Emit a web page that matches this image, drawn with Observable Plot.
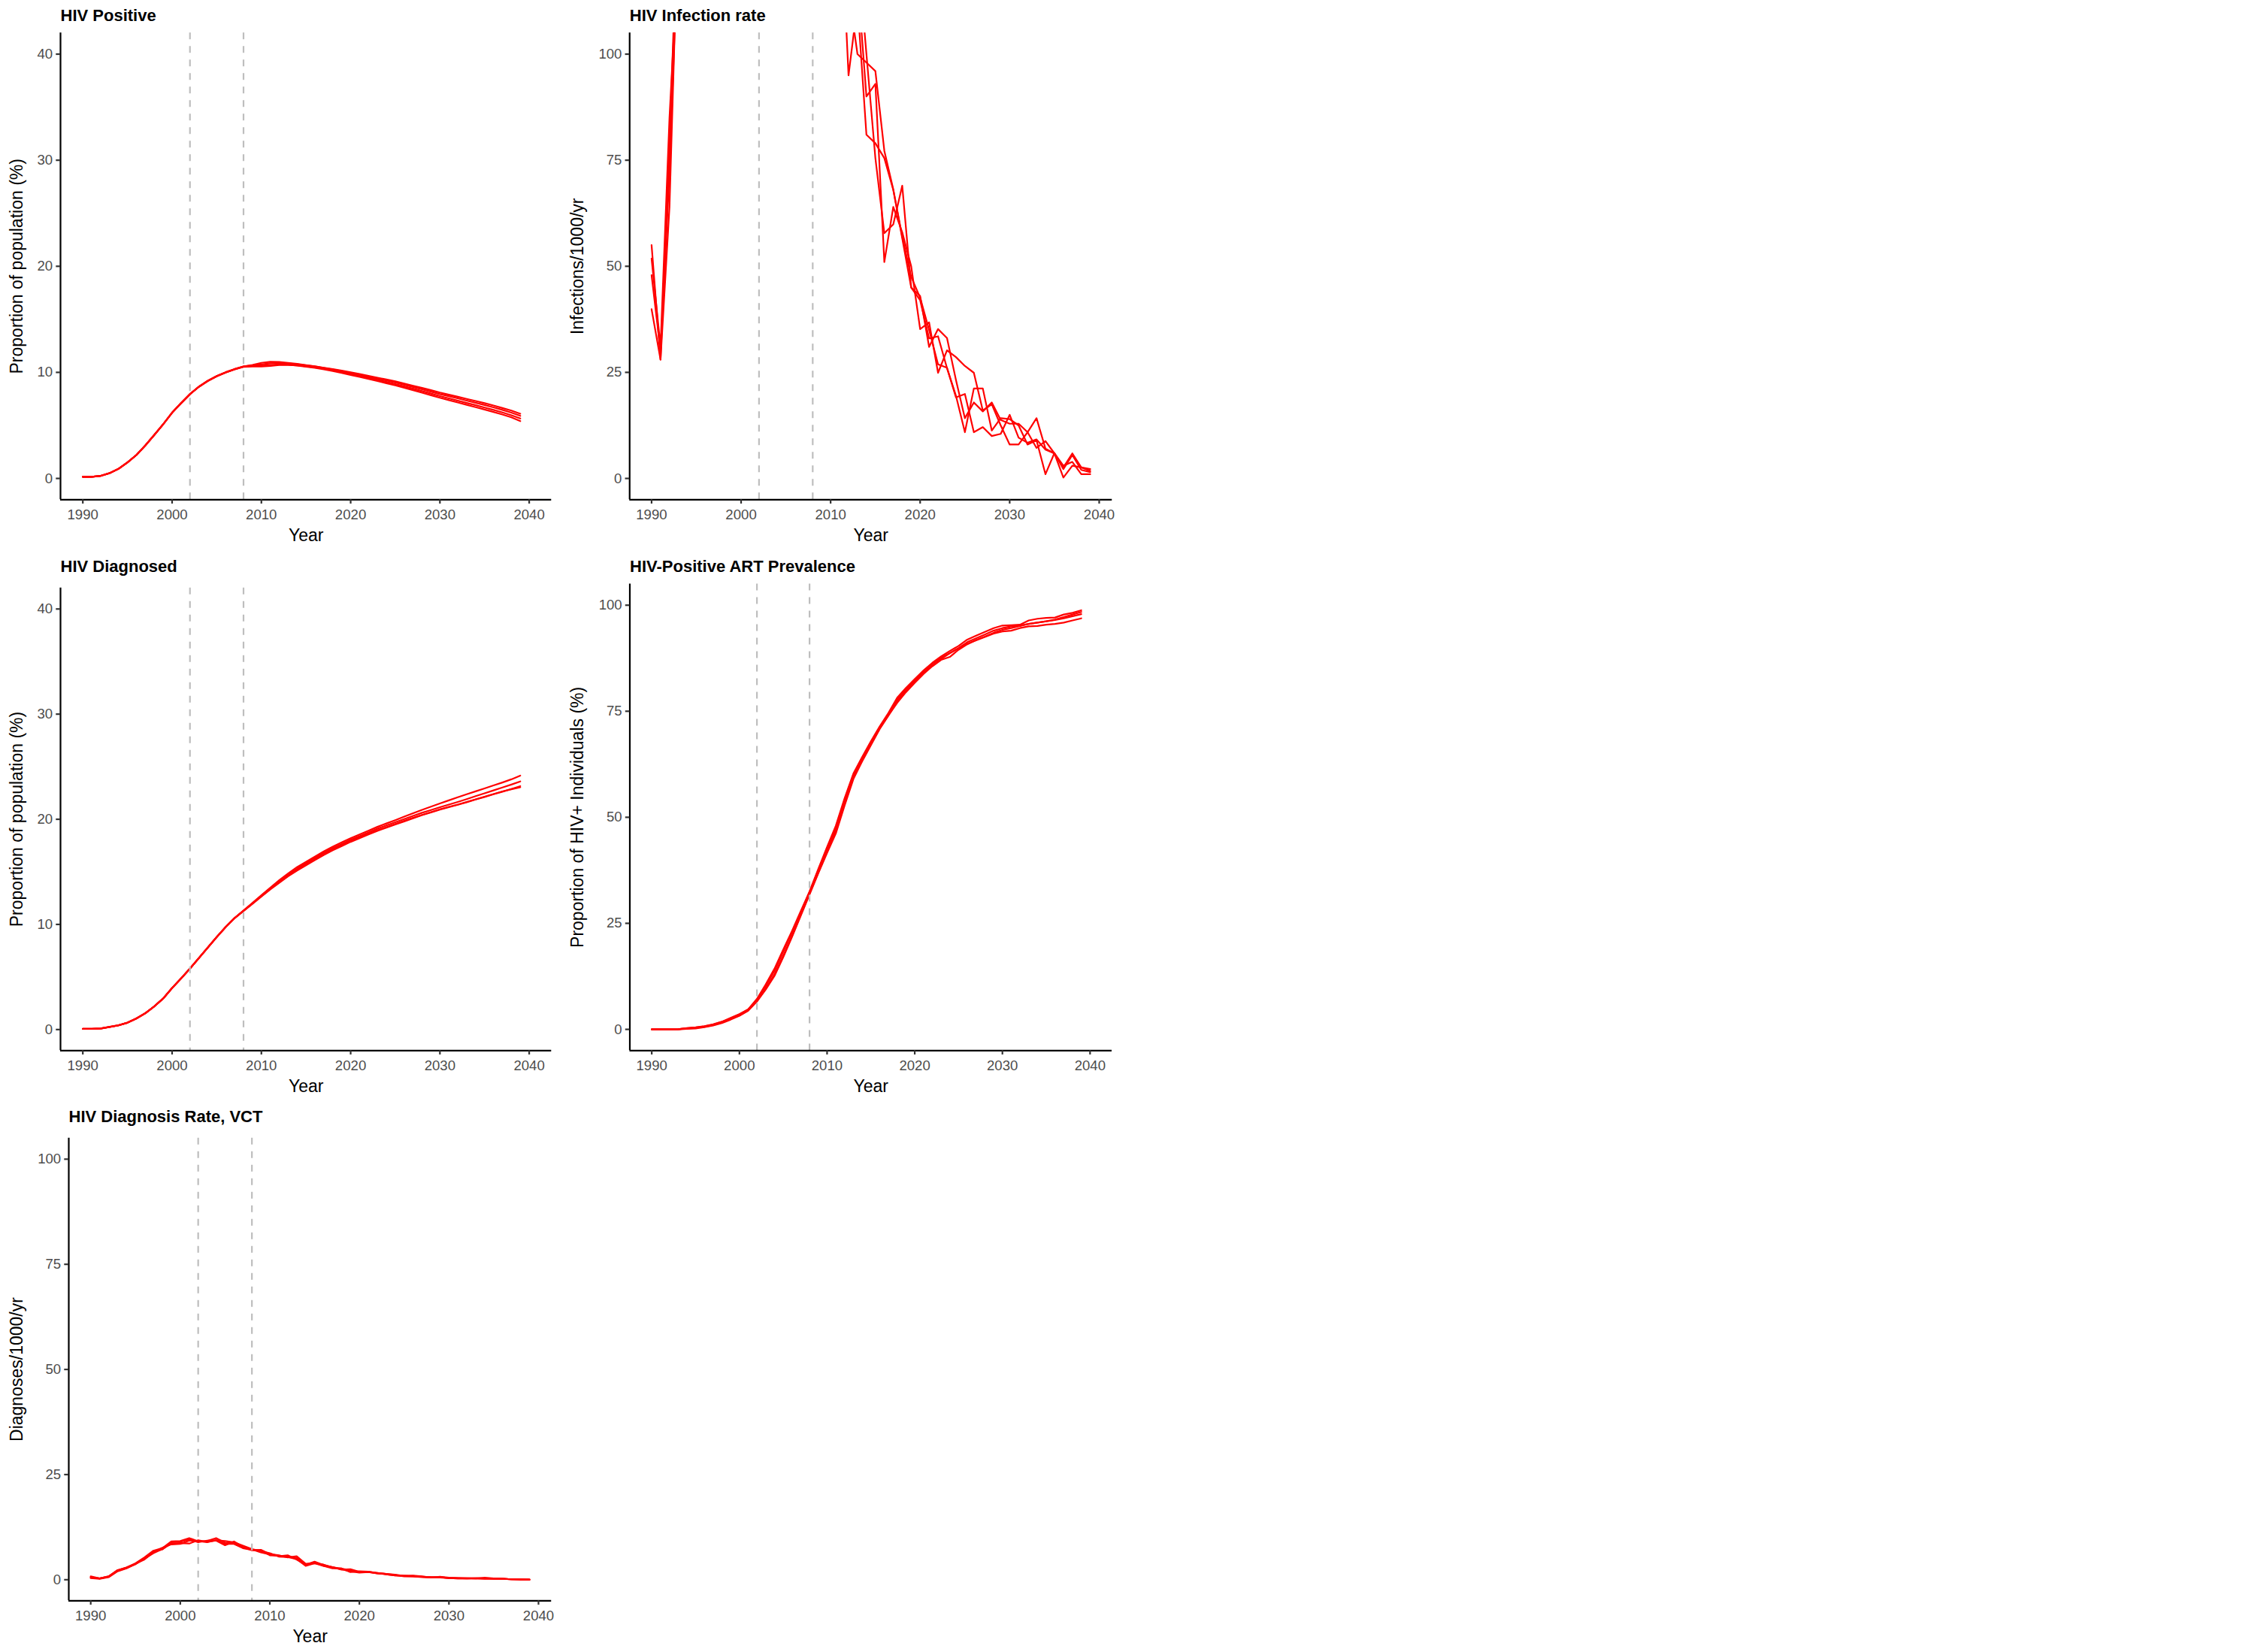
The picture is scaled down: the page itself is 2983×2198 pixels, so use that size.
<!DOCTYPE html>
<html>
<head>
<meta charset="utf-8">
<script src="https://cdn.jsdelivr.net/npm/d3@7"></script>
<script src="https://cdn.jsdelivr.net/npm/@observablehq/plot@0.6"></script>
<style>
html, body { margin: 0; padding: 0; background: #ffffff; }
#chart { position: relative; width: 2983px; height: 2198px; background: #ffffff; overflow: hidden; }
.panel { position: absolute; }
</style>
</head>
<body>
<div id="chart"></div>
<script>
// ---------------- data ----------------
const years = [1990,1991,1992,1993,1994,1995,1996,1997,1998,1999,
               2000,2001,2002,2003,2004,2005,2006,2007,2008,2009,
               2010,2011,2012,2013,2014,2015,2016,2017,2018,2019,
               2020,2021,2022,2023,2024,2025,2026,2027,2028,2029,
               2030,2031,2032,2033,2034,2035,2036,2037,2038,2039];
const interventionYears = [2002, 2008];
const xTicks = [1990, 2000, 2010, 2020, 2030, 2040];
const pctTicks = [0, 10, 20, 30, 40];
const rateTicks = [0, 25, 50, 75, 100];
const runNames = ["run1", "run2", "run3", "run4"];

// HIV Positive (% of population)
const hivPosRun1 = [0.15,0.16,0.24,0.5,0.9,1.5,2.2,3.1,4.1,5.1,6.2,7.1,7.95,8.65,9.2,9.65,10.0,10.3,10.55,10.7,
  10.9,11.0,10.98,10.9,10.8,10.68,10.57,10.44,10.3,10.16,10.0,9.84,9.67,9.5,9.33,9.15,8.95,8.74,8.53,8.32,8.1,7.9,7.7,7.5,7.3,7.1,6.88,6.64,6.4,6.1];
const hivPosRun2 = [0.15,0.16,0.25,0.5,0.92,1.52,2.22,3.12,4.1,5.12,6.2,7.1,7.96,8.66,9.22,9.66,10.02,10.32,10.56,10.66,
  10.75,10.85,10.88,10.84,10.76,10.66,10.55,10.42,10.27,10.12,9.95,9.78,9.6,9.42,9.24,9.05,8.84,8.62,8.4,8.18,7.95,7.75,7.55,7.34,7.13,6.92,6.7,6.46,6.2,5.9];
const hivPosRun3 = [0.14,0.15,0.24,0.49,0.9,1.5,2.2,3.1,4.08,5.1,6.18,7.08,7.93,8.63,9.18,9.63,9.98,10.28,10.52,10.55,
  10.55,10.6,10.7,10.7,10.65,10.57,10.47,10.35,10.2,10.04,9.86,9.68,9.5,9.3,9.1,8.9,8.68,8.46,8.23,8.0,7.76,7.55,7.33,7.12,6.9,6.68,6.46,6.22,5.96,5.65];
const hivPosRun4 = [0.15,0.16,0.25,0.51,0.91,1.51,2.21,3.11,4.11,5.11,6.21,7.11,7.96,8.64,9.19,9.64,9.99,10.29,10.54,10.62,
  10.62,10.7,10.75,10.72,10.64,10.54,10.42,10.28,10.12,9.95,9.76,9.57,9.38,9.18,8.98,8.77,8.55,8.32,8.08,7.84,7.6,7.38,7.16,6.94,6.72,6.5,6.27,6.03,5.76,5.4];

// HIV Infection rate (infections/1000/yr)
const infRun1 = [55,28,64,135,160,180,190,195,196,193,189,184,178,172,166,161,156,152,148,145,142,140,
  95,112,81,79,75.5,68,57,47.5,42.6,35,26.9,26.1,19.1,19.9,10.9,12.1,10,10.5,15,9.6,8.4,9.2,6.8,5.9,3,3.9,1,1];
const infRun2 = [51.8,31,85,125,150,170,182,188,190,188,184,180,175,170,164,158,152,146,140,134,128,122,
  115,100,98,96,77.2,68.1,56.6,45,43,31,35.2,33.1,23.2,14.2,17.9,15.8,17.9,13.8,12.9,12.9,10.9,7.2,8.8,5.9,2.6,5.9,2.6,1.8];
const infRun3 = [47.9,30,72,130,158,176,186,192,194,192,188,184,179,174,168,162,156,150,145,140,135,130,
  125,118,90,93,51,64,58,50,35.2,36.8,24.9,30.2,28.6,26.5,24.9,16,17.5,12.5,8,8,10.9,14.2,7,5.9,0.2,3,2.6,2.2];
const infRun4 = [39.9,28,78,140,165,185,195,200,200,197,193,188,183,177,171,165,159,153,147,141,136,131,
  128,125,100,75.5,57.8,59.9,69,45,42,33,33.5,26,19.5,10.9,21.2,21.2,11.3,14.2,14,12.5,8,9,1,6,2.2,5.5,2,1.5];

// HIV Diagnosed (% of population)
const diagRun1 = [0.07,0.07,0.1,0.25,0.4,0.66,1.06,1.56,2.21,2.96,3.96,4.86,5.81,6.81,7.81,8.81,9.76,10.62,11.32,12.05,
  12.78,13.5,14.2,14.85,15.45,15.95,16.45,16.95,17.4,17.8,18.2,18.55,18.92,19.28,19.6,19.92,20.25,20.57,20.9,21.2,21.5,21.8,22.1,22.38,22.66,22.94,23.22,23.5,23.8,24.15];
const diagRun2 = [0.07,0.07,0.1,0.25,0.41,0.65,1.05,1.55,2.2,2.95,3.95,4.85,5.8,6.8,7.8,8.8,9.75,10.6,11.3,12.0,
  12.72,13.42,14.08,14.72,15.3,15.82,16.32,16.8,17.25,17.65,18.05,18.4,18.75,19.1,19.42,19.72,20.02,20.32,20.62,20.88,21.15,21.4,21.65,21.92,22.2,22.47,22.75,23.02,23.3,23.6];
const diagRun3 = [0.06,0.06,0.09,0.24,0.4,0.64,1.04,1.54,2.19,2.94,3.94,4.84,5.79,6.79,7.79,8.79,9.74,10.59,11.28,11.96,
  12.64,13.32,13.96,14.58,15.12,15.62,16.12,16.6,17.05,17.45,17.85,18.2,18.55,18.9,19.2,19.5,19.8,20.1,20.4,20.65,20.92,21.15,21.38,21.62,21.88,22.12,22.38,22.62,22.88,23.15];
const diagRun4 = [0.07,0.07,0.1,0.26,0.41,0.66,1.06,1.56,2.2,2.96,3.96,4.86,5.8,6.8,7.8,8.8,9.75,10.6,11.29,11.98,
  12.68,13.38,14.02,14.62,15.18,15.68,16.18,16.68,17.15,17.55,17.95,18.3,18.62,18.95,19.25,19.55,19.85,20.15,20.42,20.68,20.95,21.18,21.4,21.65,21.9,22.15,22.4,22.65,22.85,23.05];

// HIV-Positive ART Prevalence (% of HIV+ individuals)
const artRun1 = [0,0,0,0.05,0.3,0.5,0.75,1.2,1.8,2.7,3.6,4.7,7.2,10.6,14.3,18.8,23.2,27.9,32.5,37.8,
  43.0,48.0,54.5,60.3,64.2,67.9,71.4,74.6,78.2,80.5,82.6,84.6,86.4,87.9,89.2,90.4,91.9,92.8,93.7,94.6,95.2,95.3,95.4,96.4,96.8,97.0,97.1,97.8,98.2,98.8];
const artRun2 = [0,0,0,0.02,0.2,0.35,0.6,1.0,1.6,2.4,3.3,4.5,6.6,9.6,13.0,17.4,22.0,27.0,32.0,37.0,
  42.0,46.9,53.5,59.6,63.6,67.3,70.9,74.0,77.4,79.9,82.1,84.1,85.8,87.3,88.7,89.9,91.3,92.2,93.1,94.0,94.6,95.0,95.2,95.6,95.9,96.2,96.6,97.2,97.8,98.4];
const artRun3 = [0,0,0,0,0.1,0.2,0.5,0.9,1.5,2.3,3.2,4.4,6.6,9.4,12.6,17.0,21.8,26.8,31.8,36.8,
  41.6,46.2,52.8,59.0,63.2,67.0,70.8,74.0,77.0,79.5,81.7,83.8,85.6,87.1,87.8,89.5,90.8,91.8,92.6,93.5,94.2,94.6,95.1,95.6,95.9,96.2,96.5,96.9,97.4,97.9];
const artRun4 = [0,0,0,0.05,0.25,0.45,0.7,1.1,1.8,2.6,3.5,4.7,6.9,10.2,13.8,18.3,22.8,27.5,32.4,37.5,
  42.6,47.5,54.0,60.0,63.8,67.6,71.2,74.3,77.8,80.3,82.5,84.5,86.2,87.6,88.7,89.8,90.9,91.7,92.5,93.3,93.8,94.0,94.6,95.0,95.1,95.4,95.6,95.9,96.4,96.9];

// HIV Diagnosis Rate, VCT (diagnoses/1000/yr)
const vctRun1 = [0.8,0.3,0.8,2.3,2.9,3.9,5.3,6.9,7.5,9.1,9.2,9.9,9.1,9.2,9.9,8.8,8.6,7.6,7.2,6.5,
  6.0,5.6,5.8,4.8,3.6,4.3,3.5,3.0,2.4,2.5,1.9,1.8,1.6,1.4,1.2,0.9,1.0,0.8,0.5,0.7,0.5,0.4,0.4,0.3,0.5,0.3,0.2,0.1,0.1,0.1];
const vctRun2 = [0.4,0.2,0.6,2.0,2.7,3.7,5.0,6.3,7.3,8.6,8.7,8.6,9.4,9.0,9.3,8.2,9.1,7.8,7.0,7.1,
  6.1,5.8,5.3,5.6,3.8,3.9,3.3,2.7,2.7,1.8,2.0,1.9,1.5,1.3,1.0,0.9,0.8,0.7,0.6,0.5,0.4,0.3,0.3,0.4,0.3,0.2,0.2,0.1,0.1,0.0];
const vctRun3 = [0.5,0.3,0.7,2.1,2.8,3.8,4.8,6.5,7.6,8.4,8.5,9.3,9.2,8.9,9.4,9.2,8.9,8.1,7.3,6.8,
  6.3,5.5,5.4,4.9,3.3,3.9,3.6,2.9,2.5,2.0,1.7,1.8,1.5,1.4,1.1,0.8,0.8,0.6,0.5,0.6,0.4,0.3,0.3,0.3,0.2,0.3,0.2,0.1,0.0,0.0];
const vctRun4 = [0.6,0.3,0.8,2.2,2.9,3.7,5.1,6.7,7.2,8.9,9.0,9.6,8.9,9.3,9.4,8.5,8.5,7.5,7.1,7.0,
  5.8,5.7,5.5,5.2,3.5,4.1,3.3,3.0,2.6,2.3,1.8,1.9,1.6,1.3,1.0,1.0,0.9,0.7,0.6,0.6,0.4,0.4,0.3,0.3,0.3,0.2,0.2,0.1,0.1,0.0];

// ---------------- layout ----------------
const FIG_W = 2983, FIG_H = 2198;
const CELL_W = FIG_W / 4, CELL_H = FIG_H / 3;
const PW = 746, PH = 733;
const FONT = "'Liberation Sans', Arial, Helvetica, sans-serif";

function toRows(runs) {
  return runs.flatMap((vals, r) => vals.map((v, i) => ({year: years[i], value: v, run: runNames[r]})));
}

const panels = [
  {title: "HIV Positive", ylab: "Proportion of population (%)",
   runs: [hivPosRun1, hivPosRun2, hivPosRun3, hivPosRun4],
   yDomain: [-2, 42], yTicks: pctTicks, xDomain: [1987.5, 2042.5],
   col: 0, row: 0, m: {l: 80, r: 12.7, t: 43.3, b: 68.7}},
  {title: "HIV Infection rate", ylab: "Infections/1000/yr",
   runs: [infRun1, infRun2, infRun3, infRun4],
   yDomain: [-5, 105], yTicks: rateTicks, xDomain: [1987.55, 2041.45],
   col: 1, row: 0, m: {l: 91.25, r: 12.75, t: 43.3, b: 68.7}},
  {title: "HIV Diagnosed", ylab: "Proportion of population (%)",
   runs: [diagRun1, diagRun2, diagRun3, diagRun4],
   yDomain: [-2, 42], yTicks: pctTicks, xDomain: [1987.5, 2042.5],
   col: 0, row: 1, m: {l: 80, r: 12.7, t: 48.8, b: 68.7}},
  {title: "HIV-Positive ART Prevalence", ylab: "Proportion of HIV+ Individuals (%)",
   runs: [artRun1, artRun2, artRun3, artRun4],
   yDomain: [-5, 105], yTicks: rateTicks, xDomain: [1987.5, 2042.5],
   col: 1, row: 1, m: {l: 91.5, r: 13.0, t: 43.5, b: 68.7}},
  {title: "HIV Diagnosis Rate, VCT", ylab: "Diagnoses/1000/yr",
   runs: [vctRun1, vctRun2, vctRun3, vctRun4],
   yDomain: [-5, 105], yTicks: rateTicks, xDomain: [1987.55, 2041.45],
   col: 0, row: 2, m: {l: 91, r: 12.75, t: 48.8, b: 68.7}}
];

const chart = document.getElementById("chart");

for (const p of panels) {
  const rows = toRows(p.runs);
  const frameBottom = PH - p.m.b;
  const svg = Plot.plot({
    width: PW, height: PH,
    marginLeft: p.m.l, marginRight: p.m.r, marginTop: p.m.t, marginBottom: p.m.b,
    style: {fontFamily: FONT, background: "transparent", overflow: "visible", color: "black"},
    x: {domain: p.xDomain},
    y: {domain: p.yDomain},
    marks: [
      Plot.line(rows, {x: "year", y: "value", z: "run", stroke: "#FF0000", strokeWidth: 2.2, clip: true}),
      Plot.ruleX(interventionYears, {stroke: "#BEBEBE", strokeWidth: 2.2, strokeDasharray: "9,9"}),
      Plot.ruleX([p.xDomain[0]], {stroke: "black", strokeWidth: 2.2}),
      Plot.ruleY([p.yDomain[0]], {stroke: "black", strokeWidth: 2.2}),
      Plot.axisX(xTicks, {tickSize: 5.7, tickPadding: 7, tickFormat: (d) => String(d),
        stroke: "#333333", strokeWidth: 2.2, fill: "#4D4D4D", fontSize: 18.6, label: null}),
      Plot.axisY(p.yTicks, {tickSize: 5.7, tickPadding: 4.6, tickFormat: (d) => String(d),
        stroke: "#333333", strokeWidth: 2.2, fill: "#4D4D4D", fontSize: 18.6, label: null}),
      Plot.text([p.title], {frameAnchor: "top-left", text: (d) => d, textAnchor: "start",
        lineAnchor: "bottom", dy: 27 - p.m.t, fontSize: 22, fontWeight: "bold", fill: "black"}),
      Plot.text([p.ylab], {frameAnchor: "left", text: (d) => d, rotate: -90, textAnchor: "middle",
        lineAnchor: "bottom", dx: 29.5 - p.m.l, fontSize: 23, fill: "black"}),
      Plot.text(["Year"], {frameAnchor: "bottom", text: (d) => d, textAnchor: "middle",
        lineAnchor: "bottom", dy: 719 - frameBottom, fontSize: 23, fill: "black"})
    ]
  });
  const div = document.createElement("div");
  div.className = "panel";
  div.style.left = (p.col * CELL_W) + "px";
  div.style.top = (p.row * CELL_H) + "px";
  div.appendChild(svg);
  chart.appendChild(div);
}
</script>
</body>
</html>
